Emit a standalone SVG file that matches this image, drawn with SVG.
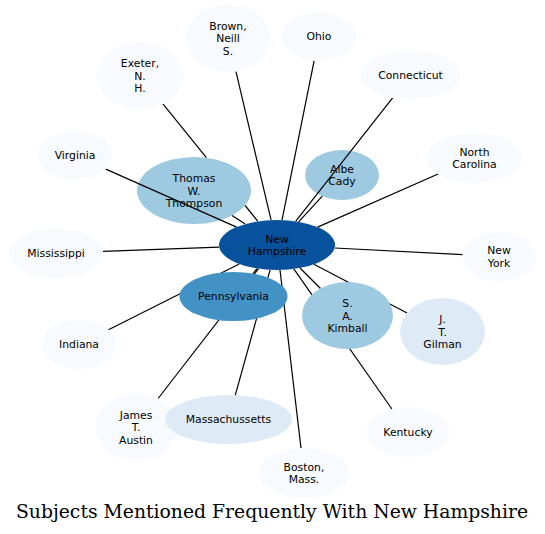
<svg xmlns="http://www.w3.org/2000/svg" width="545" height="534" viewBox="0 0 545 534">
<style>
.n0{fill:#f7fbff}
.n1{fill:#deebf7}
.n2{fill:#9ecae1}
.n3{fill:#4292c6}
.n4{fill:#08519c}
text.l{font-family:"DejaVu Sans",sans-serif;font-size:10.8px;fill:#000;text-anchor:middle}
#edges line{stroke:#000;stroke-width:1.2}
.title{font-family:"DejaVu Serif",serif;font-size:18.8px;fill:#000;text-anchor:middle}
</style>
<rect width="545" height="534" fill="#fff"/>
<g id="thompson"><ellipse class="n2" cx="194" cy="190.5" rx="57" ry="33.5"/><text class="l" x="194" y="182"><tspan x="194">Thomas</tspan><tspan x="194" dy="12.5">W.</tspan><tspan x="194" dy="12.5">Thompson</tspan></text></g>
<g id="albe-cady"><ellipse class="n2" cx="342" cy="175" rx="37" ry="25"/><text class="l" x="342" y="172.5"><tspan x="342">Albe</tspan><tspan x="342" dy="12.5">Cady</tspan></text></g>
<g id="edges">
<line x1="271.1" y1="220.1" x2="235.9" y2="71.4"/>
<line x1="282.0" y1="220.1" x2="314.1" y2="60.8"/>
<line x1="206.4" y1="157.7" x2="162.9" y2="103.8"/>
<line x1="257.9" y1="221.4" x2="245.1" y2="205.5"/>
<line x1="295.6" y1="221.3" x2="392.6" y2="97.8"/>
<line x1="236.6" y1="227.1" x2="105.8" y2="169.1"/>
<line x1="317.6" y1="227.1" x2="438.1" y2="174.0"/>
<line x1="219.2" y1="247.1" x2="102.9" y2="251.3"/>
<line x1="334.6" y1="248.0" x2="462.6" y2="254.6"/>
<line x1="239.2" y1="264.0" x2="108.5" y2="329.7"/>
<line x1="258.6" y1="268.7" x2="158.1" y2="398.5"/>
<line x1="270.1" y1="269.8" x2="235.3" y2="395.1"/>
<line x1="280.0" y1="270.0" x2="301.0" y2="448.1"/>
<line x1="293.8" y1="268.9" x2="391.9" y2="409.0"/>
<line x1="313.9" y1="264.3" x2="407.1" y2="313.0"/>
<line x1="245.2" y1="224.1" x2="232.0" y2="215.5"/>
<line x1="298.6" y1="221.8" x2="322.3" y2="196.2"/>
<line x1="257.2" y1="268.5" x2="252.8" y2="273.6"/>
<line x1="300.0" y1="268.0" x2="320.5" y2="288.5"/>
</g>
<g id="new-hampshire"><ellipse class="n4" cx="277" cy="245" rx="58" ry="25"/><text class="l" x="277" y="242.5"><tspan x="277">New</tspan><tspan x="277" dy="12.5">Hampshire</tspan></text></g>
<g id="brown"><ellipse class="n0" cx="228" cy="38" rx="42" ry="34"/><text class="l" x="228" y="29.5"><tspan x="228">Brown,</tspan><tspan x="228" dy="12.5">Neill</tspan><tspan x="228" dy="12.5">S.</tspan></text></g>
<g id="ohio"><ellipse class="n0" cx="319" cy="36.5" rx="37" ry="24.5"/><text class="l" x="319" y="40.3">Ohio</text></g>
<g id="exeter"><ellipse class="n0" cx="140" cy="75.5" rx="43" ry="33.5"/><text class="l" x="140" y="67"><tspan x="140">Exeter,</tspan><tspan x="140" dy="12.5">N.</tspan><tspan x="140" dy="12.5">H.</tspan></text></g>
<g id="connecticut"><ellipse class="n0" cx="410.5" cy="75" rx="49.5" ry="24.5"/><text class="l" x="410.5" y="78.8">Connecticut</text></g>
<g id="virginia"><ellipse class="n0" cx="75" cy="155.5" rx="37" ry="24.5"/><text class="l" x="75" y="159.3">Virginia</text></g>
<g id="north-carolina"><ellipse class="n0" cx="474.5" cy="158" rx="47.5" ry="25"/><text class="l" x="474.5" y="155.5"><tspan x="474.5">North</tspan><tspan x="474.5" dy="12.5">Carolina</tspan></text></g>
<g id="mississippi"><ellipse class="n0" cx="56" cy="253" rx="47" ry="25"/><text class="l" x="56" y="256.8">Mississippi</text></g>
<g id="new-york"><ellipse class="n0" cx="499" cy="256.5" rx="36.5" ry="24.5"/><text class="l" x="499" y="254"><tspan x="499">New</tspan><tspan x="499" dy="12.5">York</tspan></text></g>
<g id="pennsylvania"><ellipse class="n3" cx="233.5" cy="296.5" rx="54" ry="24.5"/><text class="l" x="233.5" y="300.3">Pennsylvania</text></g>
<g id="kimball"><ellipse class="n2" cx="347.5" cy="315.5" rx="45.5" ry="33.5"/><text class="l" x="347.5" y="307"><tspan x="347.5">S.</tspan><tspan x="347.5" dy="12.5">A.</tspan><tspan x="347.5" dy="12.5">Kimball</tspan></text></g>
<g id="gilman"><ellipse class="n1" cx="442.5" cy="331.5" rx="42.5" ry="33.5"/><text class="l" x="442.5" y="323"><tspan x="442.5">J.</tspan><tspan x="442.5" dy="12.5">T.</tspan><tspan x="442.5" dy="12.5">Gilman</tspan></text></g>
<g id="indiana"><ellipse class="n0" cx="79" cy="344.5" rx="37" ry="24.5"/><text class="l" x="79" y="348.3">Indiana</text></g>
<g id="james-austin"><ellipse class="n0" cx="136" cy="427" rx="40.5" ry="34"/><text class="l" x="136" y="418.5"><tspan x="136">James</tspan><tspan x="136" dy="12.5">T.</tspan><tspan x="136" dy="12.5">Austin</tspan></text></g>
<g id="massachussetts"><ellipse class="n1" cx="228.5" cy="419.5" rx="63.5" ry="24.5"/><text class="l" x="228.5" y="423.3">Massachussetts</text></g>
<g id="boston"><ellipse class="n0" cx="304" cy="473" rx="45" ry="25"/><text class="l" x="304" y="470.5"><tspan x="304">Boston,</tspan><tspan x="304" dy="12.5">Mass.</tspan></text></g>
<g id="kentucky"><ellipse class="n0" cx="408" cy="432" rx="41" ry="25"/><text class="l" x="408" y="435.8">Kentucky</text></g>
<text class="title" x="272" y="518">Subjects Mentioned Frequently With New Hampshire</text>
</svg>
